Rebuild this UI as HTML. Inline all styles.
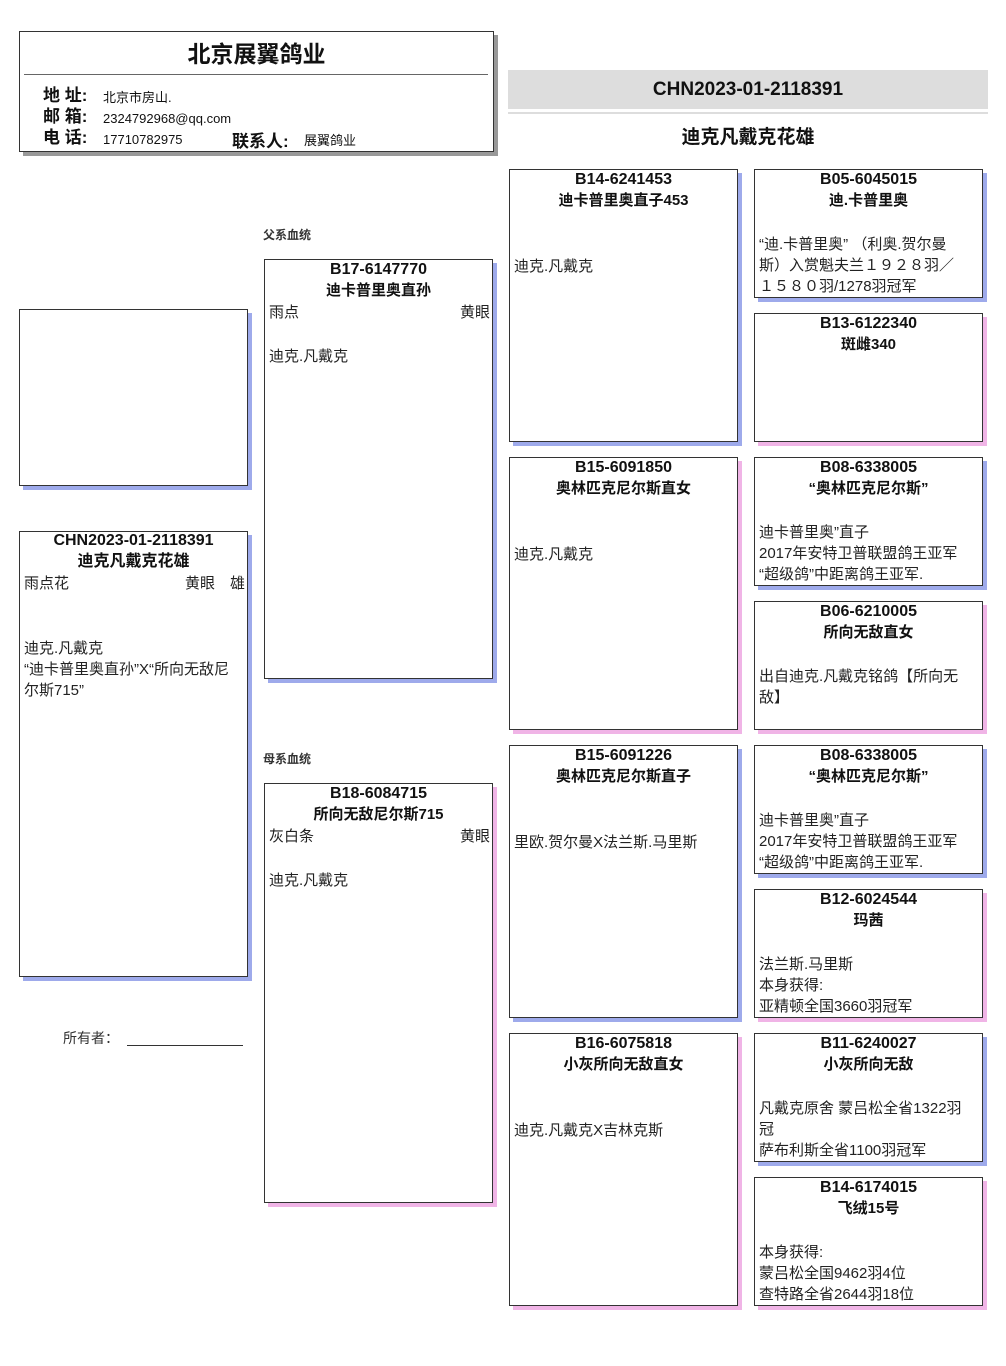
<!DOCTYPE html>
<html><head><meta charset="utf-8"><style>
*{margin:0;padding:0;box-sizing:border-box}
body{width:1006px;height:1366px;background:#fff;position:relative;font-family:"Liberation Sans","Noto Sans CJK SC",sans-serif;color:#111;overflow:hidden}
.a{position:absolute}
.b{position:absolute;border:1px solid #333;background:#fff}
.m{box-shadow:4px 4px 0 #9eaaeb}
.f{box-shadow:4px 4px 0 #f0b4e6}
.id{position:absolute;left:0;right:0;text-align:center;font-weight:bold;font-size:16px;line-height:20px}
.nm{position:absolute;left:0;right:0;text-align:center;font-weight:bold;font-size:15px;line-height:20px}
.tx{position:absolute;left:4px;right:2px;font-size:15px;line-height:21px;color:#222;white-space:nowrap}
.lb{font-size:12px;font-weight:bold;color:#333}
</style></head><body>

<div class="b" style="left:19px;top:31px;width:475px;height:121px;box-shadow:4px 4px 0 #999">
 <div class="a" style="left:0;right:0;top:3px;text-align:center;font-size:23px;font-weight:bold">北京展翼鸽业</div>
 <div class="a" style="left:4px;right:5px;top:42px;border-top:1px solid #666"></div>
 <div class="a" style="left:23px;top:53px;font-size:17px;font-weight:bold;line-height:21px">地 址:<br>邮 箱:<br>电 话:</div>
 <div class="a" style="left:83px;top:55px;font-size:13px;line-height:21px">北京市房山.<br>2324792968@qq.com<br>17710782975</div>
 <div class="a" style="left:212px;top:95px;font-size:17px;font-weight:bold">联系人:</div>
 <div class="a" style="left:284px;top:98px;font-size:13px">展翼鸽业</div>
</div>

<div class="a" style="left:508px;top:70px;width:480px;height:39px;background:#ddd;text-align:center;font-size:19px;font-weight:bold;line-height:40px">CHN2023-01-2118391</div>
<div class="a" style="left:508px;top:112px;width:480px;height:2px;background:#ddd"></div>
<div class="a" style="left:508px;top:122px;width:480px;text-align:center;font-size:19px;font-weight:bold">迪克凡戴克花雄</div>

<div class="b m" style="left:19px;top:309px;width:229px;height:177px"></div>

<div class="b m" style="left:19px;top:531px;width:229px;height:446px">
 <div class="id" style="top:-1px">CHN2023-01-2118391</div>
 <div class="nm" style="top:20px;font-size:16px">迪克凡戴克花雄</div>
 <div class="tx" style="top:41px">雨点花</div>
 <div class="tx" style="top:41px;text-align:right">黄眼　雄</div>
 <div class="tx" style="top:106px">迪克.凡戴克<br>“迪卡普里奥直孙”X“所向无敌尼<br>尔斯715”</div>
</div>
<div class="a" style="left:63px;top:1028px;font-size:14px;color:#333">所有者：</div>
<div class="a" style="left:127px;top:1045px;width:116px;border-top:1px solid #333"></div>

<div class="a lb" style="left:263px;top:226px">父系血统</div>
<div class="a lb" style="left:263px;top:750px">母系血统</div>

<div class="b m" style="left:264px;top:259px;width:229px;height:420px">
 <div class="id" style="top:0">B17-6147770</div>
 <div class="nm" style="top:21px">迪卡普里奥直孙</div>
 <div class="tx" style="top:42px">雨点</div>
 <div class="tx" style="top:42px;text-align:right">黄眼</div>
 <div class="tx" style="top:86px">迪克.凡戴克</div>
</div>
<div class="b f" style="left:264px;top:783px;width:229px;height:420px">
 <div class="id" style="top:0">B18-6084715</div>
 <div class="nm" style="top:21px">所向无敌尼尔斯715</div>
 <div class="tx" style="top:42px">灰白条</div>
 <div class="tx" style="top:42px;text-align:right">黄眼</div>
 <div class="tx" style="top:86px">迪克.凡戴克</div>
</div>

<div class="b m" style="left:509px;top:169px;width:229px;height:273px">
 <div class="id" style="top:0">B14-6241453</div><div class="nm" style="top:21px">迪卡普里奥直子453</div>
 <div class="tx" style="top:86px">迪克.凡戴克</div></div>
<div class="b f" style="left:509px;top:457px;width:229px;height:273px">
 <div class="id" style="top:0">B15-6091850</div><div class="nm" style="top:21px">奥林匹克尼尔斯直女</div>
 <div class="tx" style="top:86px">迪克.凡戴克</div></div>
<div class="b m" style="left:509px;top:745px;width:229px;height:273px">
 <div class="id" style="top:0">B15-6091226</div><div class="nm" style="top:21px">奥林匹克尼尔斯直子</div>
 <div class="tx" style="top:86px">里欧.贺尔曼X法兰斯.马里斯</div></div>
<div class="b f" style="left:509px;top:1033px;width:229px;height:273px">
 <div class="id" style="top:0">B16-6075818</div><div class="nm" style="top:21px">小灰所向无敌直女</div>
 <div class="tx" style="top:86px">迪克.凡戴克X吉林克斯</div></div>

<div class="b m" style="left:754px;top:169px;width:229px;height:129px">
 <div class="id" style="top:0">B05-6045015</div><div class="nm" style="top:21px">迪.卡普里奥</div>
 <div class="tx" style="top:64px">“迪.卡普里奥” （利奥.贺尔曼<br>斯）入赏魁夫兰１９２８羽／<br>１５８０羽/1278羽冠军</div></div>
<div class="b f" style="left:754px;top:313px;width:229px;height:129px">
 <div class="id" style="top:0">B13-6122340</div><div class="nm" style="top:21px">斑雌340</div></div>
<div class="b m" style="left:754px;top:457px;width:229px;height:129px">
 <div class="id" style="top:0">B08-6338005</div><div class="nm" style="top:21px">“奥林匹克尼尔斯”</div>
 <div class="tx" style="top:64px">迪卡普里奥”直子<br>2017年安特卫普联盟鸽王亚军<br>“超级鸽”中距离鸽王亚军.</div></div>
<div class="b f" style="left:754px;top:601px;width:229px;height:129px">
 <div class="id" style="top:0">B06-6210005</div><div class="nm" style="top:21px">所向无敌直女</div>
 <div class="tx" style="top:64px">出自迪克.凡戴克铭鸽【所向无<br>敌】</div></div>
<div class="b m" style="left:754px;top:745px;width:229px;height:129px">
 <div class="id" style="top:0">B08-6338005</div><div class="nm" style="top:21px">“奥林匹克尼尔斯”</div>
 <div class="tx" style="top:64px">迪卡普里奥”直子<br>2017年安特卫普联盟鸽王亚军<br>“超级鸽”中距离鸽王亚军.</div></div>
<div class="b f" style="left:754px;top:889px;width:229px;height:129px">
 <div class="id" style="top:0">B12-6024544</div><div class="nm" style="top:21px">玛茜</div>
 <div class="tx" style="top:64px">法兰斯.马里斯<br>本身获得:<br>亚精顿全国3660羽冠军</div></div>
<div class="b m" style="left:754px;top:1033px;width:229px;height:129px">
 <div class="id" style="top:0">B11-6240027</div><div class="nm" style="top:21px">小灰所向无敌</div>
 <div class="tx" style="top:64px">凡戴克原舍 蒙吕松全省1322羽<br>冠<br>萨布利斯全省1100羽冠军</div></div>
<div class="b f" style="left:754px;top:1177px;width:229px;height:129px">
 <div class="id" style="top:0">B14-6174015</div><div class="nm" style="top:21px">飞绒15号</div>
 <div class="tx" style="top:64px">本身获得:<br>蒙吕松全国9462羽4位<br>查特路全省2644羽18位</div></div>

</body></html>
